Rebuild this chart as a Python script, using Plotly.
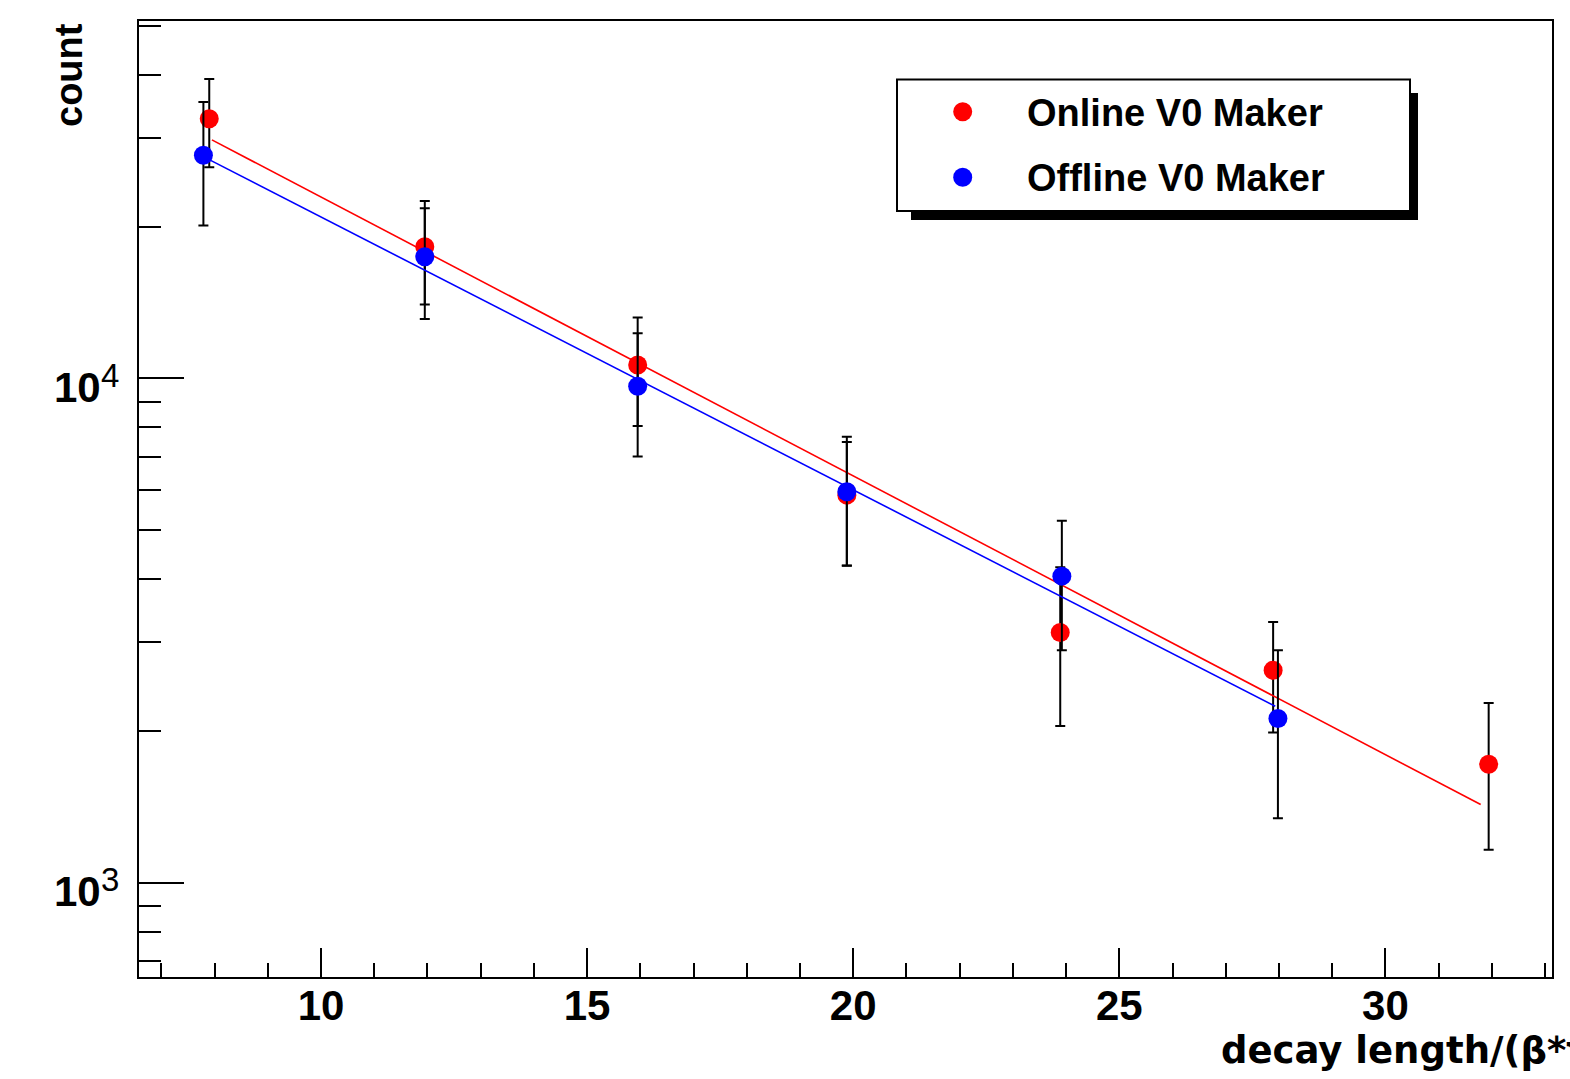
import math
import plotly.graph_objects as go

# ---- data ----
online_x = [7.90, 11.95, 15.95, 19.88, 23.89, 27.89, 31.94]
online_y = [32700, 18240, 10630, 5870, 3136, 2640, 1719]
online_err = [6500, 4220, 2580, 1615, 1090, 652, 555]

offline_x = [7.79, 11.95, 15.95, 19.88, 23.92, 27.98]
offline_y = [27700, 17420, 9650, 5960, 4056, 2118]
offline_err = [7600, 4310, 2645, 1700, 1165, 775]

# exponential fit curves (end points of the fitted range)
online_fit_x = [7.95, 31.79]
online_fit_y = [29700, 1430]
offline_fit_x = [7.88, 27.93]
offline_fit_y = [27200, 2240]

series_names = ["Online V0 Maker", "Offline V0 Maker"]
x_tick_vals = [10, 15, 20, 25, 30]
y_tick_vals = [1000, 10000]
y_tick_base = ["10", "10"]
y_tick_exp = ["3", "4"]
x_title = "decay length/(β*γ*c*τ)"
y_title = "count"

# ---- layout geometry (pixels) ----
W, H = 1570, 1079
ML, MR, MT, MB = 139, 18, 21, 102
PW, PH = W - ML - MR, H - MT - MB


def px(x):
    return (x - ML) / PW


def py(y):
    return (H - MB - y) / PH


FONT = "Liberation Sans, Arial, Helvetica, sans-serif"
WIDE = "DejaVu Sans, Liberation Sans, sans-serif"

fig = go.Figure()

fig.add_trace(go.Scatter(
    x=online_x, y=online_y, mode="markers",
    marker=dict(color="#ff0000", size=19, symbol="circle"),
    error_y=dict(type="data", array=online_err, color="black", thickness=2, width=5),
    showlegend=False,
))
fig.add_trace(go.Scatter(
    x=online_fit_x, y=online_fit_y, mode="lines",
    line=dict(color="#ff0000", width=1.6), showlegend=False,
))
fig.add_trace(go.Scatter(
    x=offline_x, y=offline_y, mode="markers",
    marker=dict(color="#0000ff", size=19, symbol="circle"),
    error_y=dict(type="data", array=offline_err, color="black", thickness=2, width=5),
    showlegend=False,
))
fig.add_trace(go.Scatter(
    x=offline_fit_x, y=offline_fit_y, mode="lines",
    line=dict(color="#0000ff", width=1.6), showlegend=False,
))

fig.update_xaxes(
    range=[6.58, 33.13],
    showline=True, linecolor="black", linewidth=2, mirror=True,
    showgrid=False, zeroline=False,
    ticks="inside", ticklen=29, tickwidth=2, tickcolor="black",
    tickvals=x_tick_vals,
    minor=dict(ticks="inside", ticklen=14, tickwidth=2, tickcolor="black",
               dtick=1, tick0=0, showgrid=False),
    tickfont=dict(family=FONT, size=42, color="black", weight="bold"),
    ticklabelstandoff=-9,
)
fig.update_yaxes(
    type="log", range=[2.8136, 4.7084],
    showline=True, linecolor="black", linewidth=2, mirror=True,
    showgrid=False, zeroline=False,
    ticks="inside", ticklen=45, tickwidth=2, tickcolor="black",
    tickvals=y_tick_vals, showticklabels=False,
    minor=dict(ticks="inside", ticklen=22, tickwidth=2, tickcolor="black",
               dtick="D1", showgrid=False),
)

annotations = []
# y tick labels in ROOT style: large base with a big exponent
for v, base, ex in zip(y_tick_vals, y_tick_base, y_tick_exp):
    annotations.append(dict(
        text=base, xref="paper", yref="y", x=px(103), y=math.log10(v),
        xanchor="right", yanchor="middle", yshift=-9, showarrow=False,
        font=dict(family=FONT, size=42, color="black", weight="bold"),
    ))
    annotations.append(dict(
        text=ex, xref="paper", yref="y", x=px(99), y=math.log10(v),
        xanchor="left", yanchor="middle", yshift=3, showarrow=False,
        font=dict(family=FONT, size=33, color="black", weight="normal"),
    ))

# ---- legend drawn by hand (ROOT style box with shadow) ----
shapes = [
    dict(type="rect", xref="paper", yref="paper",
         x0=px(911), x1=px(1418), y0=py(220), y1=py(93),
         fillcolor="black", line=dict(width=0), layer="above"),
    dict(type="rect", xref="paper", yref="paper",
         x0=px(897), x1=px(1410), y0=py(211), y1=py(79.5),
         fillcolor="white", line=dict(color="black", width=2), layer="above"),
]
legend_colors = ["#ff0000", "#0000ff"]
legend_rows = [111.7, 177.3]
for name, col, yr in zip(series_names, legend_colors, legend_rows):
    shapes.append(dict(type="circle", xref="paper", yref="paper",
                       x0=px(962.7 - 9.5), x1=px(962.7 + 9.5),
                       y0=py(yr + 9.5), y1=py(yr - 9.5),
                       fillcolor=col, line=dict(width=0), layer="above"))
    annotations.append(dict(
        text=name, xref="paper", yref="paper",
        x=px(1025), y=py(yr + 1), xanchor="left", yanchor="middle",
        showarrow=False,
        font=dict(family=FONT, size=38, color="black", weight="bold"),
    ))

annotations.append(dict(
    text=y_title, xref="paper", yref="paper", textangle=-90,
    x=px(69), y=py(75), xanchor="center", yanchor="middle", showarrow=False,
    font=dict(family=FONT, size=38, color="black", weight="bold"),
))
annotations.append(dict(
    text=x_title, xref="paper", yref="paper",
    x=px(1219), y=py(1050), xanchor="left", yanchor="middle", showarrow=False,
    font=dict(family=WIDE, size=37, color="black", weight="bold"),
))

fig.update_layout(
    width=W, height=H,
    margin=dict(l=ML, r=MR, t=MT, b=MB, pad=0),
    paper_bgcolor="white", plot_bgcolor="white",
    shapes=shapes, annotations=annotations,
    showlegend=False,
)

fig.write_html("out.html", include_plotlyjs=True, config={"displayModeBar": False})
